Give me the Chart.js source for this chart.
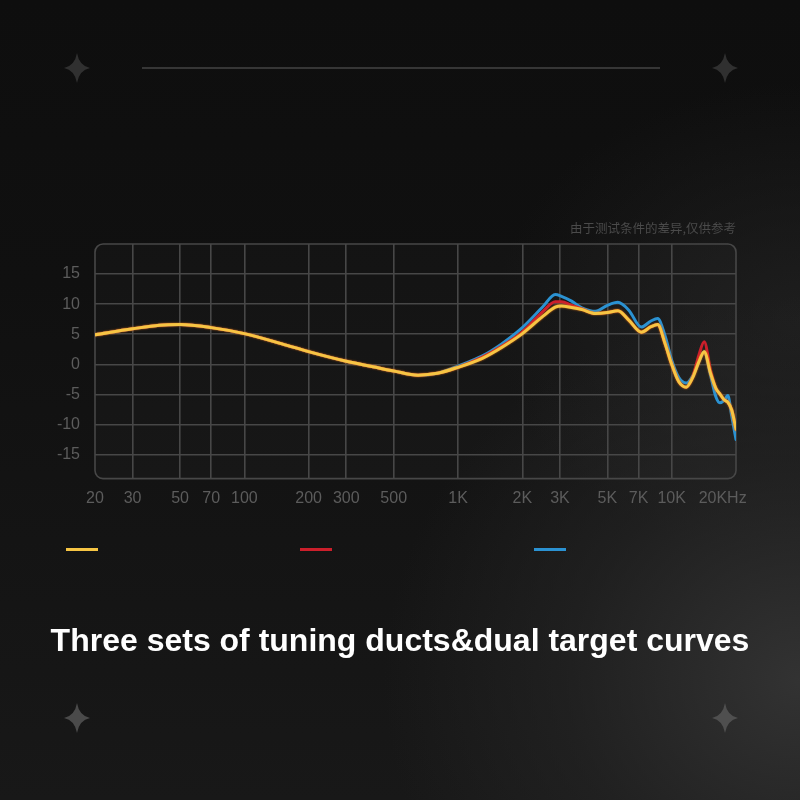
<!DOCTYPE html>
<html>
<head>
<meta charset="utf-8">
<script src="https://cdn.jsdelivr.net/npm/chart.js@4.4.1/dist/chart.umd.min.js"></script>
<style>
html,body{margin:0;padding:0;width:800px;height:800px;overflow:hidden;}
body{
  position:relative;
  background:
    radial-gradient(ellipse 65% 60% at 100% 85%, rgba(52,52,52,0.95) 0%, rgba(38,38,38,0.6) 45%, rgba(25,25,25,0) 80%),
    radial-gradient(ellipse 45% 35% at 100% 40%, rgba(36,36,36,0.7) 0%, rgba(30,30,30,0) 85%),
    linear-gradient(180deg, #0e0e0e 0%, #101010 35%, #181818 100%);
}
svg.deco{position:absolute;left:0;top:0;}
#c{position:absolute;left:0;top:0;}
</style>
</head>
<body>
<svg class="deco" width="800" height="800" viewBox="0 0 800 800">
  <defs>
    <path id="star" d="M0,-15 Q2.2,-2.2 13,0 Q2.2,2.2 0,15 Q-2.2,2.2 -13,0 Q-2.2,-2.2 0,-15Z"/>
  </defs>
  <line x1="142" y1="68" x2="660" y2="68" stroke="#363636" stroke-width="2"/>
  <use href="#star" x="77" y="68" fill="#303030"/>
  <use href="#star" x="725" y="68" fill="#303030"/>
  <use href="#star" x="77" y="718" fill="#4a4a4a"/>
  <use href="#star" x="725" y="718" fill="#4f4f4f"/>
</svg>
<canvas id="c" width="800" height="800"></canvas>
<script>
// ---- data ----
const frequencies = [20, 30, 40, 50, 70, 100, 150, 200, 300, 400, 500, 650, 800, 1000, 1300, 1600, 2000, 2500, 2850, 3050, 3400, 3800, 4400, 5000, 5600, 6300, 7200, 8000, 8600, 9300, 10000, 10800, 11700, 12600, 13400, 14200, 15200, 16100, 16800, 17600, 18300, 19100, 20000];
const seriesNames = ['Tuning duct A', 'Tuning duct B', 'Tuning duct C'];
const yellowValues = [4.9, 5.9, 6.5, 6.6, 6.1, 5.1, 3.4, 2.1, 0.5, -0.4, -1.1, -1.8, -1.5, -0.5, 1.0, 2.8, 5.1, 8.0, 9.5, 9.7, 9.45, 9.1, 8.45, 8.6, 8.9, 7.35, 5.35, 6.25, 6.6, 3.5, 0.0, -2.9, -3.8, -2.05, 0.4, 2.1, -1.5, -4.0, -4.9, -5.9, -6.3, -7.6, -10.8];
const redValues    = [4.9, 5.9, 6.5, 6.6, 6.1, 5.1, 3.4, 2.1, 0.5, -0.4, -1.1, -1.8, -1.5, -0.5, 1.2, 3.0, 5.4, 8.8, 10.4, 10.4, 9.8, 9.2, 8.45, 8.6, 8.9, 7.35, 5.35, 6.25, 6.6, 3.5, 0.0, -2.9, -3.8, -1.9, 1.5, 3.75, -1.0, -4.0, -4.9, -5.9, -6.3, -7.6, -10.8];
const blueValues   = [4.9, 5.9, 6.5, 6.6, 6.1, 5.1, 3.4, 2.1, 0.5, -0.4, -1.1, -1.8, -1.5, -0.3, 1.4, 3.4, 6.1, 9.6, 11.6, 11.3, 10.5, 9.4, 8.8, 9.8, 10.3, 9.0, 6.2, 7.2, 7.6, 4.8, 0.7, -2.2, -3.1, -1.8, 0.4, 2.1, -1.8, -5.4, -6.4, -6.0, -5.2, -8.6, -12.5];
const xTickValues = [20, 30, 50, 70, 100, 200, 300, 500, 1000, 2000, 3000, 5000, 7000, 10000, 20000];
const xTickLabels = ['20', '30', '50', '70', '100', '200', '300', '500', '1K', '2K', '3K', '5K', '7K', '10K', '20KHz'];
const yTickValues = [-15, -10, -5, 0, 5, 10, 15, 20];
const yTickLabels = ['-15', '-10', '-5', '0', '5', '10', '15', ''];
const titleText = 'Three sets of tuning ducts&dual target curves';
const noteText = '由于测试条件的差异,仅供参考';

// ---- styles ----
const colors = ['#f6c544', '#cc1f2b', '#2b92d2'];
const gridColor = '#474747';
const tickColor = '#5c5c5c';
const tickFont = '"Liberation Sans Narrow", "Liberation Sans", Arial, sans-serif';

const toPoints = vals => frequencies.map((f, i) => ({x: f, y: vals[i]}));

const boxPlugin = {
  id: 'plotBox',
  beforeDraw(chart) {
    const {ctx, chartArea: a} = chart;
    ctx.save();
    ctx.beginPath();
    ctx.roundRect(a.left, a.top, a.right - a.left, a.bottom - a.top, 8);
    ctx.fillStyle = 'rgba(255,255,255,0.018)';
    ctx.fill();
    ctx.restore();
  },
  beforeDatasetsDraw(chart) {
    const {ctx, chartArea: a} = chart;
    ctx.save();
    ctx.beginPath();
    ctx.roundRect(a.left, a.top, a.right - a.left, a.bottom - a.top, 8);
    ctx.strokeStyle = gridColor;
    ctx.lineWidth = 1.6;
    ctx.stroke();
    ctx.restore();
  }
};

const glowPlugin = {
  id: 'glow',
  beforeDatasetDraw(chart, args) {
    const ctx = chart.ctx;
    ctx.save();
    if (args.index === 0) {
      ctx.shadowColor = 'rgba(235,120,20,0.95)';
      ctx.shadowBlur = 2;
    }
  },
  afterDatasetDraw(chart) {
    chart.ctx.restore();
  }
};

const lineLegendPlugin = {
  id: 'lineLegend',
  afterDraw(chart) {
    const ctx = chart.ctx;
    const startX = 66, step = 234, w = 32, y = 548;
    ctx.save();
    chart.data.datasets.forEach((ds, i) => {
      ctx.fillStyle = ds.borderColor;
      ctx.fillRect(startX + i * step, y, w, 3);
    });
    ctx.restore();
  }
};

new Chart(document.getElementById('c'), {
  type: 'line',
  data: {
    datasets: [
      {label: seriesNames[0], data: toPoints(yellowValues), borderColor: colors[0]},
      {label: seriesNames[1], data: toPoints(redValues), borderColor: colors[1]},
      {label: seriesNames[2], data: toPoints(blueValues), borderColor: colors[2]}
    ]
  },
  options: {
    responsive: false,
    animation: false,
    events: [],
    layout: {padding: {top: 221, left: 0, right: 0, bottom: 139}},
    elements: {
      line: {borderWidth: 3, cubicInterpolationMode: 'monotone', borderCapStyle: 'round', borderJoinStyle: 'round'},
      point: {radius: 0}
    },
    scales: {
      x: {
        type: 'logarithmic',
        min: 20, max: 20000,
        border: {display: false},
        grid: {
          drawTicks: false,
          lineWidth: 1.6,
          color: c => (c.tick && (c.tick.value === 20 || c.tick.value === 20000)) ? 'rgba(0,0,0,0)' : gridColor
        },
        afterBuildTicks: s => { s.ticks = xTickValues.map(v => ({value: v})); },
        afterFit: s => { s.height = 30; },
        ticks: {
          autoSkip: false, maxRotation: 0, padding: 10,
          color: tickColor,
          font: {family: tickFont, size: 16},
          callback: v => {
            const i = xTickValues.indexOf(v);
            if (i < 0) return '';
            const lab = xTickLabels[i];
            return i === xTickValues.length - 1 ? lab + '\u00A0\u00A0\u00A0\u00A0\u00A0\u00A0' : lab;
          }
        }
      },
      y: {
        type: 'linear',
        min: -19, max: 20,
        border: {display: false},
        grid: {
          drawTicks: false,
          lineWidth: 1.6,
          color: c => (c.tick && c.tick.value === 20) ? 'rgba(0,0,0,0)' : gridColor
        },
        afterBuildTicks: s => { s.ticks = yTickValues.map(v => ({value: v})); },
        afterFit: s => { s.width = 95; },
        ticks: {
          padding: 15,
          color: tickColor,
          font: {family: tickFont, size: 16},
          callback: v => { const i = yTickValues.indexOf(v); return i < 0 ? '' : yTickLabels[i]; }
        }
      },
      yRight: {
        type: 'linear', position: 'right', min: -19, max: 20,
        display: true,
        border: {display: false},
        grid: {display: false, drawTicks: false},
        ticks: {display: false},
        afterFit: s => { s.width = 64; }
      }
    },
    plugins: {
      legend: {display: false},
      tooltip: {enabled: false},
      subtitle: {
        display: true, text: noteText, position: 'top', align: 'end', fullSize: false,
        color: '#4a4a4a',
        font: {family: '"Noto Sans CJK SC", sans-serif', size: 12.5, weight: 'normal'},
        padding: {top: 0, bottom: 8}
      },
      title: {
        display: true, text: titleText, position: 'bottom',
        color: '#ffffff',
        font: {family: '"Liberation Sans", Arial, sans-serif', size: 32, weight: 'bold'},
        padding: {top: 114, bottom: 0}
      }
    }
  },
  plugins: [boxPlugin, glowPlugin, lineLegendPlugin]
});
</script>
</body>
</html>
